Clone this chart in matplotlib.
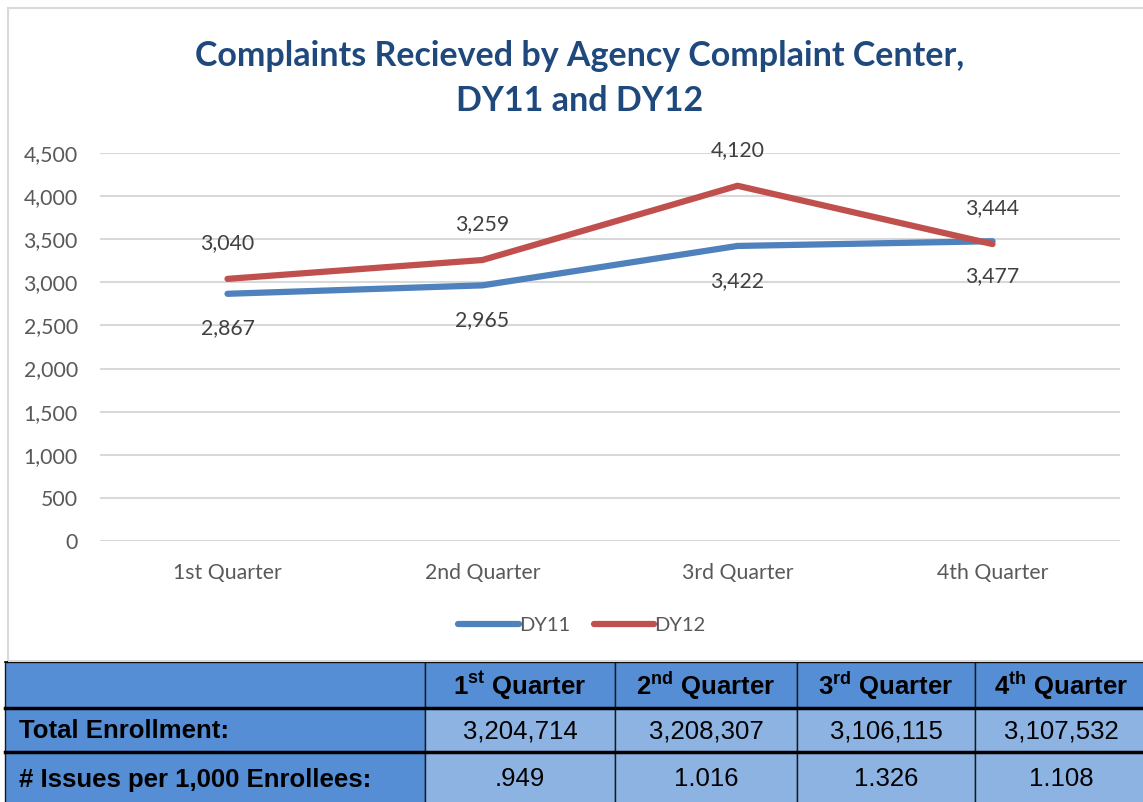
import matplotlib
matplotlib.use('Agg')
import matplotlib.pyplot as plt
from matplotlib.patches import Rectangle
from matplotlib.lines import Line2D
from matplotlib.ticker import FuncFormatter

quarters = ['1st Quarter', '2nd Quarter', '3rd Quarter', '4th Quarter']
dy11 = [2867, 2965, 3422, 3477]
dy12 = [3040, 3259, 4120, 3444]

table_header = ['1$^{\\mathrm{st}}$ Quarter', '2$^{\\mathrm{nd}}$ Quarter',
                '3$^{\\mathrm{rd}}$ Quarter', '4$^{\\mathrm{th}}$ Quarter']
row_labels = ['Total Enrollment:', '# Issues per 1,000 Enrollees:']
enrollment = ['3,204,714', '3,208,307', '3,106,115', '3,107,532']
issues_per_1000 = ['.949', '1.016', '1.326', '1.108']

W, H = 1143, 802
plt.rcParams['font.family'] = ['Lato', 'DejaVu Sans']
plt.rcParams['mathtext.fontset'] = 'custom'
plt.rcParams['mathtext.rm'] = 'Liberation Sans:bold'

fig = plt.figure(figsize=(W / 100, H / 100), dpi=100)

# chart frame
fig.patches.append(Rectangle((8 / W, 1 - 661 / H), 1.2, (661 - 8) / H, transform=fig.transFigure,
                             fill=False, edgecolor='#d9d9d9', linewidth=1.5))

fig.text(580 / W, 1 - 56 / H, 'Complaints Recieved by Agency Complaint Center,',
         ha='center', va='center', fontsize=24.5, fontweight='bold', color='#1f497d')
fig.text(580 / W, 1 - 101 / H, 'DY11 and DY12',
         ha='center', va='center', fontsize=24.5, fontweight='bold', color='#1f497d')

ax = fig.add_axes([100 / W, 1 - 541 / H, 1020 / W, 388 / H])
x = range(len(quarters))
ax.plot(x, dy11, color='#4f81bd', linewidth=4.5, solid_capstyle='round', zorder=3)
ax.plot(x, dy12, color='#c0504d', linewidth=4.5, solid_capstyle='round', zorder=4)
for i, v in enumerate(dy11):
    ax.annotate(f'{v:,}', (i, v), xytext=(0, -25), textcoords='offset points',
                ha='center', va='center', fontsize=15.3, color='#404040')
for i, v in enumerate(dy12):
    ax.annotate(f'{v:,}', (i, v), xytext=(0, 26), textcoords='offset points',
                ha='center', va='center', fontsize=15.3, color='#404040')

ax.set_xlim(-0.5, 3.5)
ax.set_ylim(0, 4500)
ax.set_yticks(range(0, 4501, 500))
ax.yaxis.set_major_formatter(FuncFormatter(lambda v, p: f'{int(v):,}'))
ax.set_xticks(list(x))
ax.set_xticklabels(quarters)
ax.grid(axis='y', color='#d9d9d9', linewidth=1.5)
ax.set_axisbelow(True)
for s in ax.spines.values():
    s.set_visible(False)
ax.tick_params(length=0, labelsize=15.3, labelcolor='#595959')
ax.tick_params(axis='y', pad=16)
ax.tick_params(axis='x', pad=16)

handles = [Line2D([], [], color='#4f81bd', linewidth=4.5, solid_capstyle='round'),
           Line2D([], [], color='#c0504d', linewidth=4.5, solid_capstyle='round')]
fig.legend(handles, ['DY11', 'DY12'], loc='center', bbox_to_anchor=(582 / W, 1 - 625 / H),
           ncol=2, frameon=False, fontsize=14.5, labelcolor='#595959',
           handlelength=3.0, handletextpad=0.0, columnspacing=1.2)

# enrollment table
tab = fig.add_axes([0, 0, 1, 1])
tab.set_xlim(0, W)
tab.set_ylim(H, 0)
tab.axis('off')
col_edges = [5, 425, 615, 797, 975, W + 5]
row_edges = [662, 708, 752, 805]
dark = '#558ed5'
light = '#8db3e2'
rows = [[''] + table_header, [row_labels[0]] + enrollment, [row_labels[1]] + issues_per_1000]
for r, cells in enumerate(rows):
    y0, y1 = row_edges[r], row_edges[r + 1]
    for c, txt in enumerate(cells):
        x0, x1 = col_edges[c], col_edges[c + 1]
        fc = dark if (r == 0 or c == 0) else light
        tab.add_patch(Rectangle((x0, y0), x1 - x0, y1 - y0, facecolor=fc,
                                edgecolor='#1a1a1a', linewidth=1.0))
        if not txt:
            continue
        bold = r == 0 or c == 0
        tx = x0 + 14 if c == 0 else (x0 + x1) / 2
        tab.text(tx, (y0 + y1) / 2 + 1, txt, ha='left' if c == 0 else 'center', va='center',
                 fontsize=18.5, fontweight='bold' if bold else 'normal', color='black',
                 family=['Liberation Sans'])
for yy in row_edges[1:3]:
    tab.plot([col_edges[0], W], [yy, yy], color='black', linewidth=2.5)
tab.plot([col_edges[0], W], [row_edges[0], row_edges[0]], color='black', linewidth=1.2)

fig.savefig('out.png', dpi=100)
